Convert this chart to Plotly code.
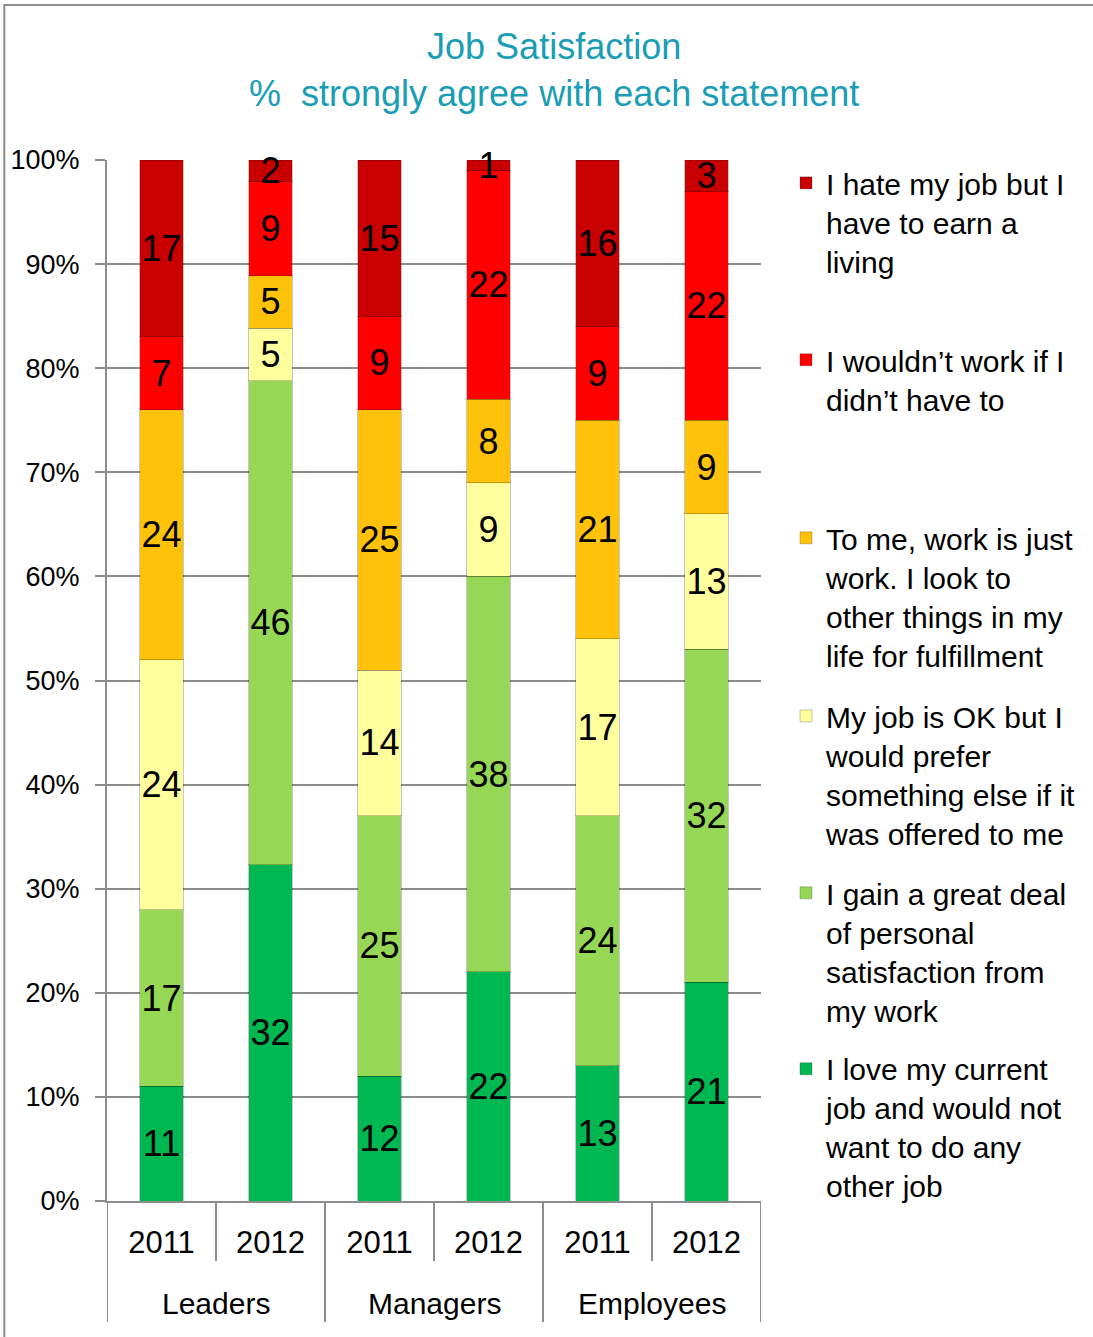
import plotly.graph_objects as go

groups = ["Leaders", "Leaders", "Managers", "Managers", "Employees", "Employees"]
years = ["2011", "2012", "2011", "2012", "2011", "2012"]
group_names = ["Leaders", "Managers", "Employees"]

series_names = [
    "I love my current<br>job and would not<br>want to do any<br>other job",
    "I gain a great deal<br>of personal<br>satisfaction from<br>my work",
    "My job is OK but I<br>would prefer<br>something else if it<br>was offered to me",
    "To me, work is just<br>work. I look to<br>other things in my<br>life for fulfillment",
    "I wouldn’t work if I<br>didn’t have to",
    "I hate my job but I<br>have to earn a<br>living",
]
love = [11, 32, 12, 22, 13, 21]
gain = [17, 46, 25, 38, 24, 32]
ok_job = [24, 5, 14, 9, 17, 13]
just_work = [24, 5, 25, 8, 21, 9]
wouldnt = [7, 9, 9, 22, 9, 22]
hate = [17, 2, 15, 1, 16, 3]
series_values = [love, gain, ok_job, just_work, wouldnt, hate]
colors = ["#00B852", "#96D855", "#FFFF9E", "#FFC20A", "#FF0000", "#C80000"]
y_ticks = [0, 10, 20, 30, 40, 50, 60, 70, 80, 90, 100]
y_tick_labels = [f"{v}%" for v in y_ticks]

FONT = "Liberation Sans, Arial, sans-serif"
GRID = "#8C8C8C"

categories = [f"{g} {y}" for g, y in zip(groups, years)]

fig = go.Figure()
legend_ids = ["legend6", "legend5", "legend4", "legend3", "legend2", "legend"]
for name, vals, col, lid in zip(series_names, series_values, colors, legend_ids):
    fig.add_trace(go.Bar(
        x=categories, y=vals, name=name,
        marker=dict(color=col, line=dict(color="rgba(0,0,0,0.22)", width=1)),
        text=vals, texttemplate="%{text}", textposition="inside",
        insidetextanchor="middle", textangle=0,
        textfont=dict(size=36, color="black", family=FONT),
        cliponaxis=False, legend=lid,
    ))

legend_tops = {"legend": 1.003, "legend2": 0.833, "legend3": 0.662,
               "legend4": 0.491, "legend5": 0.321, "legend6": 0.152}
legend_layouts = {}
for lid, ytop in legend_tops.items():
    legend_layouts[lid] = dict(
        x=1.0366, xanchor="left", y=ytop, yanchor="top", valign="top",
        font=dict(size=30, color="black", family=FONT),
        bgcolor="rgba(0,0,0,0)", borderwidth=0,
    )

fig.update_layout(
    barmode="stack", barnorm="percent", bargap=0.6,
    width=1093, height=1337,
    margin=dict(l=107, r=331, t=160, b=136),
    paper_bgcolor="white", plot_bgcolor="white",
    font=dict(family=FONT, color="black"),
    title=dict(
        text="Job Satisfaction<br>%  strongly agree with each statement",
        x=0.507, xanchor="center", xref="container",
        y=0.9555, yanchor="top", yref="container",
        font=dict(size=36, color="#1A9DB6", family=FONT),
    ),
    uniformtext=dict(minsize=36, mode="show"),
    showlegend=True,
    **legend_layouts,
)

fig.update_yaxes(
    range=[0, 100], tickvals=y_ticks, ticktext=y_tick_labels,
    showgrid=True, gridcolor=GRID, gridwidth=2,
    showline=True, linecolor=GRID, linewidth=2,
    ticks="outside", ticklen=10, tickcolor=GRID, tickwidth=2,
    ticklabelstandoff=10,
    tickfont=dict(size=27, color="black", family=FONT),
    zeroline=False,
)
fig.update_xaxes(
    type="category", categoryorder="array", categoryarray=categories,
    tickvals=categories, ticktext=years,
    showline=True, linecolor=GRID, linewidth=2,
    ticks="", ticklabelstandoff=13,
    tickfont=dict(size=31, color="black", family=FONT),
    range=[-0.5, len(categories) - 0.5],
)

# short dividers between years, long dividers between groups
plot_h = 1337 - 160 - 136
short_len = 60 / plot_h
long_len = 121 / plot_h
n = len(categories)
for k in range(n + 1):
    is_group_edge = k == 0 or k == n or groups[k] != groups[k - 1]
    fig.add_shape(type="line", xref="x", yref="paper",
                  x0=k - 0.5, x1=k - 0.5, y0=0,
                  y1=-(long_len if is_group_edge else short_len),
                  line=dict(color=GRID, width=2))

for g in group_names:
    idx = [i for i, gg in enumerate(groups) if gg == g]
    fig.add_annotation(x=sum(idx) / len(idx), xref="x",
                       y=-(1303 - 1201) / plot_h, yref="paper",
                       text=g, showarrow=False, yanchor="middle",
                       font=dict(size=30, color="black", family=FONT))

# outer chart frame
fig.add_shape(type="rect", xref="paper", yref="paper",
              x0=-0.157, x1=1.6, y0=-0.2, y1=1.149,
              line=dict(color="#8C8C8C", width=2), fillcolor="rgba(0,0,0,0)",
              layer="below")

fig.write_html("out.html")
